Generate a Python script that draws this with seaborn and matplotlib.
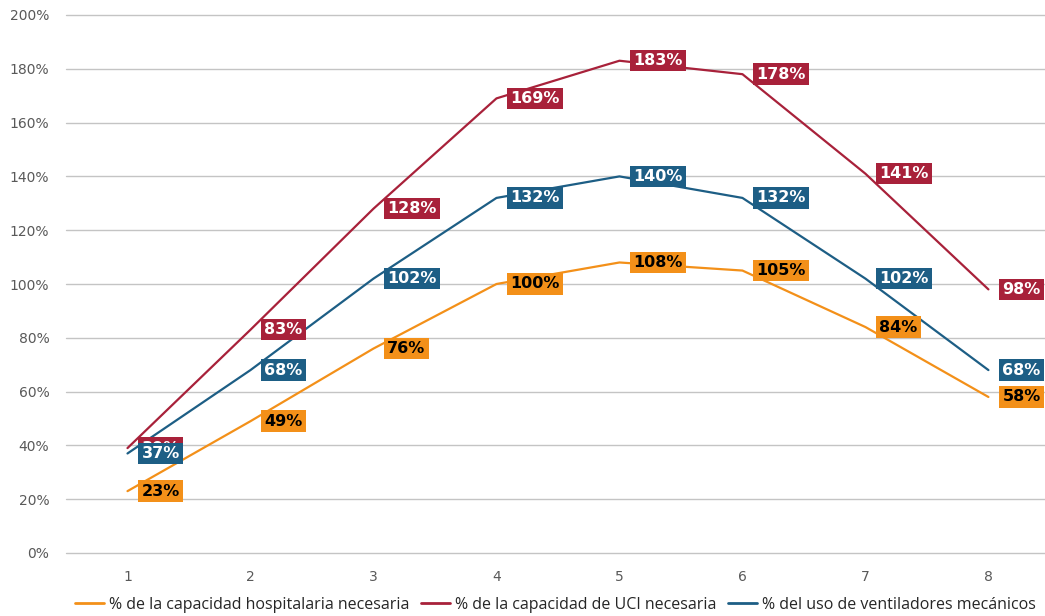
import seaborn as sns
import matplotlib.pyplot as plt
import pandas as pd
from matplotlib.ticker import FuncFormatter

# Data
semanas = ['1', '2', '3', '4', '5', '6', '7', '8']
hospitalaria = [23, 49, 76, 100, 108, 105, 84, 58]
uci = [39, 83, 128, 169, 183, 178, 141, 98]
ventiladores = [37, 68, 102, 132, 140, 132, 102, 68]

series = ['% de la capacidad hospitalaria necesaria',
          '% de la capacidad de UCI necesaria',
          '% del uso de ventiladores mecánicos']
colores = ['#F39019', '#A8213A', '#1D5E85']
texto_colores = ['black', 'white', 'white']

df = pd.DataFrame({
    'Semana': semanas * 3,
    'Valor': hospitalaria + uci + ventiladores,
    'Serie': [series[0]] * 8 + [series[1]] * 8 + [series[2]] * 8,
})

sns.set_theme(style="whitegrid")
plt.rcParams['font.family'] = ['DejaVu Sans']

fig = plt.figure(figsize=(10.45, 6.16), dpi=100)
ax = fig.add_axes([66 / 1045, 63 / 616, 979 / 1045, 538 / 616])

sns.lineplot(data=df, x='Semana', y='Valor', hue='Serie', palette=colores,
             linewidth=1.6, ax=ax, sort=False)

# Data labels
for serie, col, tcol in zip(series, colores, texto_colores):
    sub = df[df['Serie'] == serie]
    for i, v in enumerate(sub['Valor']):
        ax.annotate(f"{v}%", xy=(i, v), xytext=(10, 0), textcoords='offset points',
                    ha='left', va='center', fontsize=11.5, fontweight='bold', color=tcol,
                    bbox=dict(boxstyle='square,pad=0.2', fc=col, ec='none'), zorder=5)

ax.set_ylim(0, 200)
ax.set_yticks(range(0, 201, 20))
ax.yaxis.set_major_formatter(FuncFormatter(lambda v, p: f"{v:.0f}%"))
ax.set_xlim(-0.5, 7.46)
ax.set_xlabel('')
ax.set_ylabel('')
ax.grid(axis='y', color='#c4c4c4', linewidth=1)
ax.grid(axis='x', visible=False)
for gl in ax.get_ygridlines():
    gl.set_clip_on(False)
for s in ax.spines.values():
    s.set_visible(False)
ax.tick_params(axis='both', colors='#595959', labelsize=10, length=0)
ax.tick_params(axis='y', pad=12)
ax.tick_params(axis='x', pad=12)

leg = ax.legend(loc='upper center', bbox_to_anchor=(0.5, -0.055), ncol=3, frameon=False,
                handlelength=1.8, handletextpad=0.35, columnspacing=0.7,
                prop={'family': 'Open Sans', 'size': 11.5})
for line in leg.get_lines():
    line.set_linewidth(2)

fig.savefig('out.png', dpi=100)
